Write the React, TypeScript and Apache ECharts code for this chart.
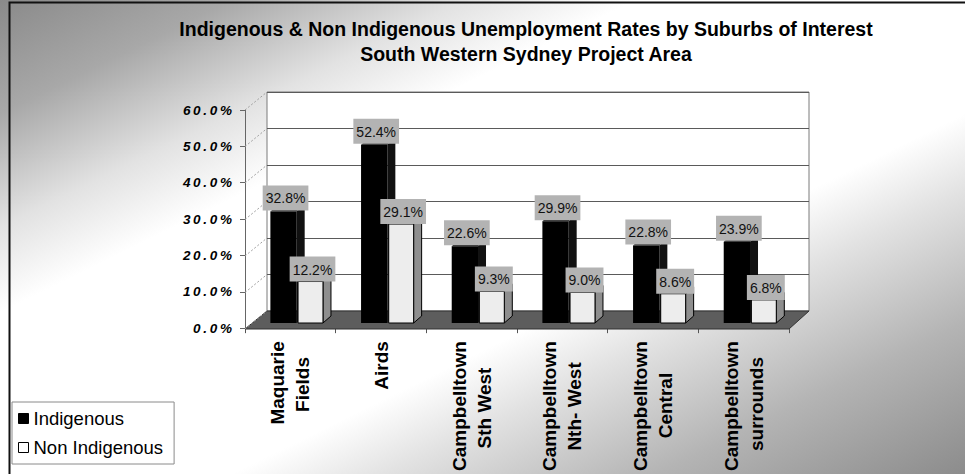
import React, { useEffect, useRef } from "react";
import * as echarts from "echarts";

const categories = [
  "Maquarie\nFields",
  "Airds",
  "Campbelltown\nSth West",
  "Campbelltown\nNth- West",
  "Campbelltown\nCentral",
  "Campbelltown\nsurrounds",
];
const indigenous = [32.8, 52.4, 22.6, 29.9, 22.8, 23.9];
const nonIndigenous = [12.2, 29.1, 9.3, 9.0, 8.6, 6.8];
const yTicks = [0, 10, 20, 30, 40, 50, 60];
const seriesNames = ["Indigenous", "Non Indigenous"];
const titleLines = [
  "Indigenous & Non Indigenous Unemployment Rates by Suburbs of Interest",
  "South Western Sydney Project Area",
];

const W = 965;
const H = 474;
const FONT = '"Liberation Sans", Arial, Helvetica, sans-serif';
const CAT_FONT_SIZE = 19;
// front (axis) plane
const F = { left: 245, right: 789, top: 110, bottom: 329 };
// back wall
const B = { left: 267, right: 809, top: 92, bottom: 311 };
// bar plane
const P = { left: 245, right: 789, top: 119, bottom: 323 };
const DX = 8;
const DY = -7;

let measureCtx: CanvasRenderingContext2D | null = null;
function textWidth(s: string, font: string): number {
  if (!measureCtx) {
    const c = document.createElement("canvas");
    measureCtx = c.getContext("2d");
  }
  if (!measureCtx) return s.length * 8;
  measureCtx.font = font;
  return measureCtx.measureText(s).width;
}

function centerLines(label: string): string {
  const font = `bold ${CAT_FONT_SIZE}px ${FONT}`;
  const lines = label.split("\n");
  if (lines.length < 2) return label;
  const widths = lines.map((l) => textWidth(l, font));
  const maxW = Math.max(...widths);
  const sp = textWidth("\u00a0", font) || 5;
  return lines
    .map((l, i) => {
      const n = Math.round((maxW - widths[i]) / 2 / sp);
      return l + "\u00a0".repeat(Math.max(0, n));
    })
    .join("\n");
}

function spaced(s: string): string {
  return s.split("").join("\u2009");
}

function makeRender(kind: number) {
  return (params: any, api: any) => {
    const idx = api.value(0);
    const val = api.value(1);
    const base = api.coord([idx, 0]);
    const top = api.coord([idx, val]);
    const band = api.size([1, 0])[0];
    const s = base[0] - band / 2;
    const x0 = kind === 0 ? s + 0.28 * band : s + 0.585 * band;
    const w = kind === 0 ? 0.29 * band : 0.275 * band;
    const yb = base[1];
    const yt = top[1];
    const front = kind === 0 ? "#000000" : "#ededed";
    const side = kind === 0 ? "#111111" : "#8e8e8e";
    const topC = kind === 0 ? "#1c1c1c" : "#cfcfcf";
    const stroke = "#000000";
    const lw = kind === 0 ? 0 : 1;
    const label = val.toFixed(1) + "%";
    return {
      type: "group",
      children: [
        {
          type: "polygon",
          shape: {
            points: [
              [x0 + w, yt],
              [x0 + w + DX, yt + DY],
              [x0 + w + DX, yb + DY],
              [x0 + w, yb],
            ],
          },
          style: { fill: side, stroke, lineWidth: lw },
        },
        {
          type: "polygon",
          shape: {
            points: [
              [x0, yt],
              [x0 + DX, yt + DY],
              [x0 + w + DX, yt + DY],
              [x0 + w, yt],
            ],
          },
          style: { fill: topC, stroke, lineWidth: lw },
        },
        {
          type: "rect",
          shape: { x: x0, y: yt, width: w, height: yb - yt },
          style: { fill: front, stroke, lineWidth: lw },
        },
        {
          type: "text",
          z2: 50,
          x: x0 + w / 2 + 2,
          y: yt - (kind === 0 ? 1 : 0),
          style: {
            text: label,
            fill: "#111",
            font: `14px ${FONT}`,
            align: "center",
            verticalAlign: "bottom",
            backgroundColor: "#b3b3b3",
            padding: [6, 3, 5, 3],
          },
        },
      ],
    };
  };
}

export default function App() {
  const ref = useRef<HTMLDivElement>(null);
  useEffect(() => {
    if (!ref.current) return;
    const chart = echarts.init(ref.current, null, { renderer: "svg" });
    const grid = (g: any) => ({
      left: g.left,
      right: W - g.right,
      top: g.top,
      bottom: H - g.bottom,
      containLabel: false,
    });
    const option: any = {
      animation: false,
      backgroundColor: "transparent",
      title: {
        text: titleLines.join("\n"),
        left: 521,
        top: 11,
        textAlign: "center",
        textStyle: {
          fontFamily: FONT,
          fontWeight: "bold",
          fontSize: 19.5,
          lineHeight: 25,
          color: "#000",
        },
      },
      legend: {
        orient: "vertical",
        left: 12,
        top: 402,
        itemWidth: 10,
        itemHeight: 10,
        itemGap: 10,
        padding: [7, 11, 7, 6],
        borderColor: "#8a8a8a",
        borderWidth: 1,
        backgroundColor: "rgba(255,255,255,0.6)",
        icon: "rect",
        textStyle: { fontFamily: FONT, fontSize: 18.5, color: "#000" },
        data: [
          { name: seriesNames[0], itemStyle: { color: "#000", borderColor: "#000", borderWidth: 1 } },
          { name: seriesNames[1], itemStyle: { color: "#fff", borderColor: "#000", borderWidth: 1 } },
        ],
      },
      grid: [
        { ...grid(F), show: false },
        {
          ...grid(B),
          show: true,
          backgroundColor: "#ffffff",
          borderColor: "#7a7a7a",
          borderWidth: 1,
        },
        { ...grid(P), show: false },
      ],
      xAxis: [
        {
          type: "category",
          gridIndex: 0,
          data: categories,
          boundaryGap: true,
          axisLine: { show: true, lineStyle: { color: "#555", width: 1 } },
          axisTick: { show: true, length: 5, lineStyle: { color: "#555" } },
          axisLabel: {
            interval: 0,
            rotate: 90,
            margin: 13,
            fontFamily: FONT,
            fontWeight: "bold",
            fontSize: CAT_FONT_SIZE,
            lineHeight: 25,
            color: "#000",
            formatter: (v: string) => centerLines(v),
          },
          splitLine: { show: false },
        },
        {
          type: "category",
          gridIndex: 1,
          data: categories,
          show: false,
        },
        {
          type: "category",
          gridIndex: 2,
          data: categories,
          show: false,
        },
      ],
      yAxis: [
        {
          type: "value",
          gridIndex: 0,
          min: yTicks[0],
          max: yTicks[yTicks.length - 1],
          interval: 10,
          axisLine: { show: true, lineStyle: { color: "#666", width: 1 } },
          axisTick: { show: true, length: 5, lineStyle: { color: "#666" } },
          splitLine: { show: false },
          axisLabel: {
            margin: 13,
            fontFamily: FONT,
            fontWeight: "bold",
            fontStyle: "italic",
            fontSize: 13.5,
            color: "#000",
            formatter: (v: number) => spaced(v.toFixed(1) + "%"),
          },
        },
        {
          type: "value",
          gridIndex: 1,
          min: yTicks[0],
          max: yTicks[yTicks.length - 1],
          interval: 10,
          axisLine: { show: false },
          axisTick: { show: false },
          axisLabel: { show: false },
          splitLine: { show: true, lineStyle: { color: "#5a5a5a", width: 1 } },
        },
        {
          type: "value",
          gridIndex: 2,
          min: yTicks[0],
          max: yTicks[yTicks.length - 1],
          show: false,
          splitLine: { show: false },
        },
      ],
      graphic: [
        {
          type: "rect",
          shape: { x: 9.5, y: 2.5, width: W + 20, height: H + 20 },
          style: { fill: "none", stroke: "#111", lineWidth: 2 },
          silent: true,
          z: -1,
        },
        {
          type: "polygon",
          shape: {
            points: [
              [F.left, F.bottom],
              [F.right, F.bottom],
              [B.right, B.bottom],
              [B.left, B.bottom],
            ],
          },
          style: { fill: "#5d5d5d", stroke: "#333", lineWidth: 1 },
          silent: true,
          z: 1,
        },
        ...yTicks.map((t) => {
          const yF = F.bottom - ((F.bottom - F.top) * t) / 60;
          const yB = B.bottom - ((B.bottom - B.top) * t) / 60;
          return {
            type: "line",
            shape: { x1: F.left, y1: yF, x2: B.left, y2: yB },
            style: { stroke: "#a0a0a0", lineWidth: 1, lineDash: [2, 2] },
            silent: true,
            z: 1,
          };
        }),
      ],
      series: [
        {
          name: seriesNames[0],
          type: "custom",
          xAxisIndex: 2,
          yAxisIndex: 2,
          itemStyle: { color: "#000" },
          renderItem: makeRender(0),
          data: indigenous.map((v, i) => [i, v]),
          z: 5,
        },
        {
          name: seriesNames[1],
          type: "custom",
          xAxisIndex: 2,
          yAxisIndex: 2,
          itemStyle: { color: "#fff", borderColor: "#000" },
          renderItem: makeRender(1),
          data: nonIndigenous.map((v, i) => [i, v]),
          z: 6,
        },
      ],
    };
    chart.setOption(option);
    return () => chart.dispose();
  }, []);
  return (
    <div
      ref={ref}
      style={{
        position: "fixed",
        left: 0,
        top: 0,
        width: W,
        height: H,
        background:
          "linear-gradient(to bottom right, #8a8a8a 0%, #a8a8a8 12%, #e2e2e2 24%, #ffffff 33%, #ffffff 62%, #e2e2e2 70%, #b4b4b4 84%, #8c8c8c 100%)",
      }}
    />
  );
}
